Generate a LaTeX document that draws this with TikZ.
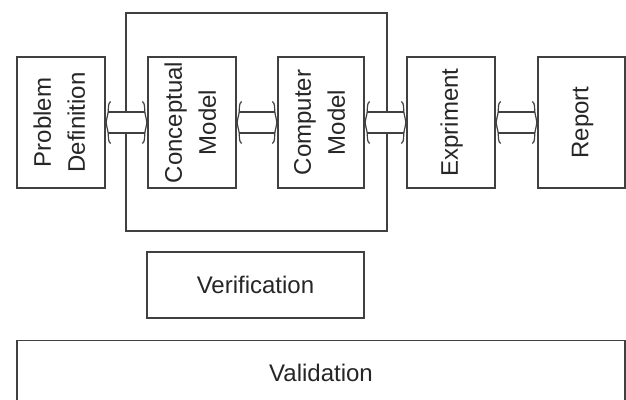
\documentclass[tikz,border=0pt]{standalone}
\usepackage{fontspec}
\setmainfont{Liberation Sans}
\usetikzlibrary{calc}
\tikzset{
  box/.style={draw=black!75, line width=1.3pt, fill=white, inner sep=0pt, text=black!85},
  lnk/.style={draw=black!75, line width=1.2pt},
}
\newcommand\txtfont{\fontsize{24}{34}\selectfont}
\newcommand\vtext[1]{\rotatebox{90}{\txtfont\begin{tabular}{@{}c@{}}#1\end{tabular}}}
\newcommand\conn[2]{%
  \fill[white] ($(#1.east)+(2,-10.5)$) rectangle ($(#2.west)+(-2,10.5)$);
  \draw[lnk] ($(#1.east)+(2.5,-10.5)$) -- ($(#2.west)+(-2.5,-10.5)$);
  \draw[lnk] ($(#1.east)+(2.5,10.5)$) -- ($(#2.west)+(-2.5,10.5)$);
  \draw[lnk] ($(#1.east)+(5,-21)$) .. controls ($(#1.east)+(2,-19)$) and ($(#1.east)+(3,-14)$) .. ($(#1.east)+(2.5,-10.5)$)
     .. controls ($(#1.east)+(2,-6)$) and ($(#1.east)+(0.5,-3)$) .. ($(#1.east)+(0.5,0)$)
     .. controls ($(#1.east)+(0.5,3)$) and ($(#1.east)+(2,6)$) .. ($(#1.east)+(2.5,10.5)$)
     .. controls ($(#1.east)+(3,14)$) and ($(#1.east)+(2,19)$) .. ($(#1.east)+(5,21)$);
  \draw[lnk] ($(#2.west)+(-5,-21)$) .. controls ($(#2.west)+(-2,-19)$) and ($(#2.west)+(-3,-14)$) .. ($(#2.west)+(-2.5,-10.5)$)
     .. controls ($(#2.west)+(-2,-6)$) and ($(#2.west)+(-0.5,-3)$) .. ($(#2.west)+(-0.5,0)$)
     .. controls ($(#2.west)+(-0.5,3)$) and ($(#2.west)+(-2,6)$) .. ($(#2.west)+(-2.5,10.5)$)
     .. controls ($(#2.west)+(-3,14)$) and ($(#2.west)+(-2,19)$) .. ($(#2.west)+(-5,21)$);
}
\begin{document}
\begin{tikzpicture}[x=1pt,y=-1pt]
\useasboundingbox (0,0) rectangle (626,399);
\fill[white] (0,0) rectangle (626,399);
\clip (0,0) rectangle (626,399);
% enclosing rectangle
\node[draw=black!75, line width=1.3pt, minimum width=261pt, minimum height=218pt, inner sep=0pt] (enc) at (256.5,122) {};
% boxes
\node[box, minimum width=88pt, minimum height=131pt] (pd) at (61,122.5) {\vtext{Problem\\Definition}};
\node[box, minimum width=88pt, minimum height=131pt] (cm) at (192,122.5) {\vtext{Conceptual\\Model}};
\node[box, minimum width=86pt, minimum height=131pt] (comp) at (321,122.5) {\vtext{Computer\\Model}};
\node[box, minimum width=88pt, minimum height=131pt] (exp) at (451,122.5) {\vtext{Expriment}};
\node[box, minimum width=87pt, minimum height=131pt] (rep) at (581.5,122.5) {\vtext{Report}};
% connectors
\conn{pd}{cm}
\conn{cm}{comp}
\conn{comp}{exp}
\conn{exp}{rep}
% lower boxes
\node[box, minimum width=217pt, minimum height=66pt] (ver) at (255.5,285) {\txtfont Verification};
\node[box, minimum width=608pt, minimum height=70pt, anchor=north] (val) at (321,340) {};
\node[text=black!85, anchor=center] (valt) at (321,373) {\txtfont Validation};
\end{tikzpicture}
\end{document}
